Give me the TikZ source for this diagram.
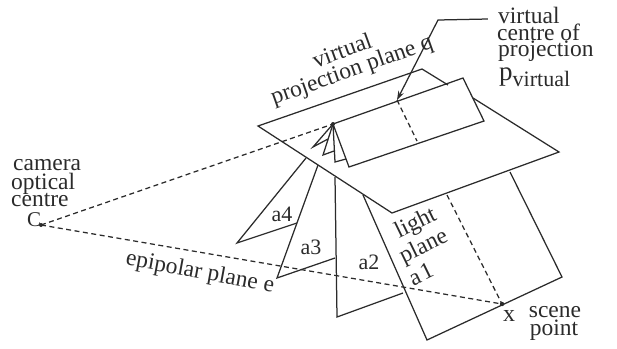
\documentclass[tikz,border=0pt]{standalone}
\usepackage{fontspec}
\setmainfont{Liberation Serif}
\usetikzlibrary{arrows.meta}
\definecolor{ink}{gray}{0.17}
\tikzset{
  edge/.style={draw=ink,line width=1.25pt,line join=miter},
  dash line/.style={draw=ink,line width=1.25pt,dash pattern=on 5pt off 3.5pt},
  lab/.style={text=ink,inner sep=0pt,font=\fontsize{23.5}{18}\selectfont},
}
\begin{document}
\begin{tikzpicture}[x=1pt,y=-1pt]
\useasboundingbox (0,0) rectangle (617,348);
% camera centre and scene point
\coordinate (C) at (41,225);
\coordinate (X) at (502,304);
\coordinate (P) at (397,100);
\coordinate (apex) at (333,124);
% virtual projection plane
\coordinate (vl) at (258,126);
\coordinate (vt) at (422,69);
\coordinate (vb) at (392,213);
\coordinate (vr) at (559,152);
\coordinate (tr) at (463,78);
\coordinate (tf) at (484,121);
\coordinate (tb) at (349,167);
\draw[edge] (448,85) -- (vt) -- (vl) -- (vb) -- (vr) -- (473,98);
% tent
\draw[edge] (apex) -- (tr) -- (tf) -- (tb) -- cycle;
\draw[dash line] (P) -- (417,141);
% folds in the tent
\draw[edge] (apex) -- (313,147) -- (328,139);
\draw[edge] (apex) -- (323,155) -- (334,151);
\draw[edge] (apex) -- (335,162) -- (346,159);
% light planes
\coordinate (a1t) at (363,195);
\coordinate (a1b) at (427,340);
\coordinate (a1r) at (562,277);
\coordinate (a1e) at (510,172);
\draw[edge] (a1t) -- (a1b) -- (a1r) -- (a1e);
\draw[dash line] (447,195) -- (X);
\draw[edge] (335,177) -- (337,317) -- (403,293);
\draw[edge] (318,165) -- (277,278) -- (335,258);
\draw[edge] (306,158) -- (237,243) -- (297,223);
% rays
\draw[dash line] (C) -- (apex);
\draw[dash line] (C) -- (X);
\fill[ink] (C) circle (2pt);
\fill[ink] (X) circle (2.2pt);
\fill[ink] (apex) circle (2pt);
% pointer
\node[inner sep=0pt,minimum size=0pt] (ptr) at (488,19) {};
\draw[edge,-{Stealth[length=9pt,width=6pt]}] (ptr) -- (438,20) -- (P);
% labels
\node[lab,rotate=20] (t1) at (342,50) {virtual};
\node[lab,rotate=19.5] (t2) at (352,71) {projection plane q};
\node[lab,anchor=base west] (t3) at (498,23) {virtual};
\node[lab,anchor=base west] (t4) at (497,40) {centre of};
\node[lab,anchor=base west] (t5) at (498,56) {projection};
\node[lab,anchor=base west] (t6) at (499,80) {\fontsize{27}{27}\selectfont p\raisebox{-6pt}{\fontsize{22}{22}\selectfont virtual}};
\node[lab,anchor=base west] (t7) at (13,170) {camera};
\node[lab,anchor=base west] (t8) at (11,189) {optical};
\node[lab,anchor=base west] (t9) at (11,206) {centre};
\node[lab,anchor=base west,font=\fontsize{21}{21}\selectfont] (t10) at (27,226) {C};
\node[lab,rotate=-10.5] (t11) at (200,273) {epipolar plane e};
\node[lab,rotate=26] (t12) at (416,224) {light};
\node[lab,rotate=26] (t13) at (424,247) {plane};
\node[lab,rotate=26] (t14) at (421,274) {a\kern2pt 1};
\node[lab,font=\fontsize{22}{22}\selectfont] (t15) at (282,214) {a4};
\node[lab,font=\fontsize{22}{22}\selectfont] (t16) at (311,247) {a3};
\node[lab,font=\fontsize{22}{22}\selectfont] (t17) at (369,262) {a2};
\node[lab,font=\fontsize{24}{24}\selectfont] (t18) at (509,316) {x};
\node[lab] (t19) at (555,312) {scene};
\node[lab] (t20) at (554,330) {point};
\end{tikzpicture}
\end{document}
